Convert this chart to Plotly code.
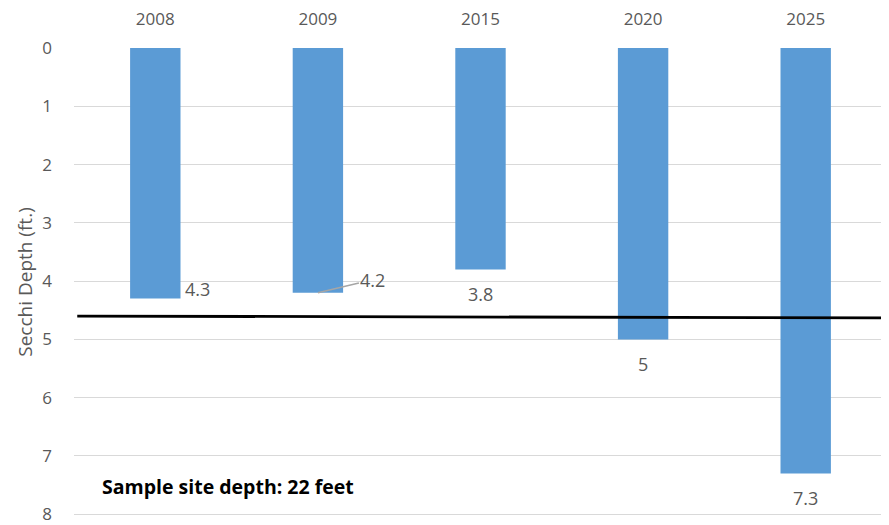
import plotly.graph_objects as go

years = ["2008", "2009", "2015", "2020", "2025"]
secchi_depth = [4.3, 4.2, 3.8, 5.0, 7.3]
value_labels = ["4.3", "4.2", "3.8", "5", "7.3"]
line_pos = [-0.48, 4.5]
line_depth = [4.6, 4.63]
y_ticks = [0, 1, 2, 3, 4, 5, 6, 7, 8]
note_text = "Sample site depth: 22 feet"

FONT = "Open Sans"
GRAY = "#595959"

pos = list(range(len(years)))

fig = go.Figure()
fig.add_trace(go.Bar(
    x=pos, y=secchi_depth, marker_color="#5B9BD5", width=0.31,
    marker_line_width=0, showlegend=False, hoverinfo="skip",
))
fig.add_trace(go.Scatter(
    x=line_pos, y=line_depth, mode="lines",
    line=dict(color="black", width=2.8), showlegend=False, hoverinfo="skip",
))

offsets = {
    0: dict(xshift=42, yshift=10, showarrow=False),
    2: dict(xshift=0, yshift=-25, showarrow=False),
    3: dict(xshift=0, yshift=-25, showarrow=False),
    4: dict(xshift=0, yshift=-25, showarrow=False),
}
LABEL_FONT = dict(family=FONT, size=18, color=GRAY)
for i, (p, v, lab) in enumerate(zip(pos, secchi_depth, value_labels)):
    if i == 1:
        fig.add_annotation(x=p, y=v, text=lab, showarrow=True, arrowhead=0,
                           arrowcolor="#A6A6A6", arrowwidth=1.5, ax=55, ay=-13,
                           font=LABEL_FONT)
    else:
        fig.add_annotation(x=p, y=v, text=lab, font=LABEL_FONT, **offsets[i])

fig.add_annotation(xref="paper", yref="y", x=0.032, y=7.52, xanchor="left", yanchor="middle",
                   text="<b>" + note_text + "</b>", showarrow=False,
                   font=dict(family=FONT, size=19.5, color="black"))

# page body has an 8px default margin, so the figure is sized/margined to compensate
fig.update_layout(
    width=881, height=517,
    margin=dict(l=66, r=2, t=40, b=9),
    paper_bgcolor="white", plot_bgcolor="white",
    xaxis=dict(side="top", range=[-0.5, 4.5], tickvals=pos, ticktext=years,
               showgrid=False, showline=False, zeroline=False, ticks="", automargin=False,
               tickfont=dict(family=FONT, size=17, color=GRAY), ticklabelstandoff=19),
    yaxis=dict(range=[8.03, 0], tickvals=y_ticks, showgrid=True, gridcolor="#D9D9D9", gridwidth=1.3,
               zeroline=False, showline=False, ticks="", automargin=False,
               ticklabeloverflow="allow",
               tickfont=dict(family=FONT, size=17, color=GRAY), ticklabelstandoff=21,
               title=dict(text="Secchi Depth (ft.)", font=dict(family=FONT, size=19, color=GRAY),
                          standoff=4)),
)

fig.write_html("out.html")
